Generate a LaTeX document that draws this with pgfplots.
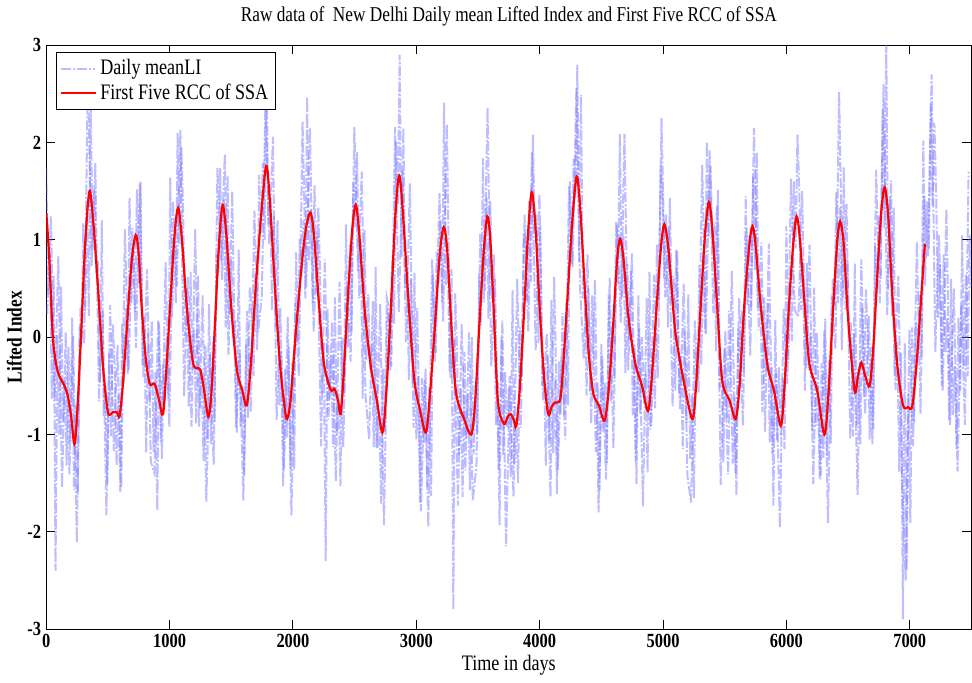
\documentclass[border=0pt]{standalone}
\usepackage{fontspec}
\setmainfont{Liberation Serif}[FakeStretch=0.82]
\usepackage{pgfplots}
\pgfplotsset{compat=1.18}
\usepackage{pgfplotstable}
\definecolor{rawblue}{RGB}{115,115,255}
\definecolor{rccred}{RGB}{255,0,0}

% daily mean LI, one value every 15 days from day 0
\pgfplotstableread[row sep=\\]{li\\
1.73\\ 0.44\\ 0.86\\ -0.63\\ 0.63\\ -2.40\\ 0.02\\ -1.00\\ 0.52\\ -0.87\\
-0.42\\ -1.32\\ -0.10\\ -1.07\\ 0.20\\ -1.57\\ -0.69\\ -1.62\\ 0.11\\ -0.10\\
1.17\\ 0.25\\ 1.34\\ 0.22\\ 2.45\\ 0.90\\ 1.52\\ 0.66\\ 0.79\\ -0.46\\
1.20\\ -0.81\\ -0.49\\ -1.51\\ -0.17\\ -1.02\\ 0.13\\ -0.32\\ -1.32\\ -0.59\\
-1.59\\ 0.14\\ -0.47\\ 0.30\\ -0.38\\ 1.43\\ 0.35\\ 0.98\\ 0.26\\ 1.52\\
0.55\\ 1.60\\ -0.29\\ 0.21\\ -1.19\\ 0.04\\ -0.68\\ 0.17\\ -1.18\\ -0.36\\
-1.78\\ 0.15\\ -1.07\\ -0.28\\ -0.66\\ 0.00\\ -0.63\\ 1.64\\ 0.20\\ 1.00\\
0.35\\ 2.10\\ 0.96\\ 1.95\\ 1.27\\ 0.01\\ 0.50\\ -0.72\\ 0.67\\ -0.35\\
0.07\\ -0.89\\ 0.64\\ -0.73\\ -0.32\\ -1.27\\ -0.08\\ -1.05\\ 0.34\\ -1.10\\
-0.05\\ -0.87\\ 0.85\\ 0.63\\ 1.74\\ 0.59\\ 1.41\\ 0.10\\ 1.66\\ 0.23\\
0.80\\ -0.01\\ 0.18\\ -0.98\\ 0.90\\ -0.93\\ -0.50\\ -1.41\\ -0.07\\ -0.83\\
0.52\\ 0.30\\ -0.40\\ 0.65\\ -0.13\\ 1.67\\ 1.07\\ 1.79\\ 1.00\\ 2.90\\
1.16\\ 1.44\\ 0.27\\ 1.25\\ 0.10\\ 1.20\\ -0.70\\ -0.14\\ -1.53\\ -0.33\\
-1.03\\ -0.10\\ -1.35\\ -0.26\\ -1.36\\ 0.87\\ -0.06\\ 1.01\\ 0.63\\ 1.20\\
0.40\\ 2.47\\ 0.78\\ 1.31\\ 0.33\\ 1.56\\ 0.45\\ 1.34\\ 0.64\\ -0.58\\
-0.06\\ -2.30\\ 0.29\\ -0.64\\ -0.19\\ -1.13\\ 0.41\\ -1.01\\ -0.58\\ -1.53\\
-0.01\\ -0.59\\ 1.16\\ -0.10\\ 0.95\\ 0.05\\ 1.59\\ 1.13\\ 1.90\\ 0.40\\
0.98\\ -0.63\\ 1.10\\ -0.24\\ 0.44\\ -0.33\\ -0.07\\ -1.13\\ 0.72\\ -1.14\\
-0.75\\ -1.71\\ -0.32\\ -0.98\\ 0.41\\ 0.31\\ -0.35\\ 0.79\\ 0.14\\ 2.02\\
1.36\\ 2.90\\ 0.82\\ 2.15\\ 0.50\\ 0.70\\ -0.44\\ 0.60\\ -0.51\\ 0.66\\
-1.05\\ -0.40\\ -1.70\\ -0.42\\ -1.09\\ -0.32\\ -1.54\\ -0.51\\ -1.63\\ 0.64\\
-0.25\\ 0.88\\ 0.56\\ 1.19\\ 0.36\\ 2.41\\ 0.53\\ 0.84\\ -0.35\\ 0.70\\
-2.80\\ 0.45\\ -0.15\\ -1.21\\ -0.53\\ -1.64\\ -0.15\\ -1.04\\ -0.58\\ -1.57\\
0.00\\ -1.20\\ -0.49\\ -0.99\\ 0.65\\ 0.12\\ 1.84\\ 0.48\\ 1.43\\ 0.19\\
1.40\\ 0.40\\ 0.85\\ -0.90\\ -0.46\\ -1.93\\ 0.00\\ -1.21\\ -0.36\\ -0.93\\
-0.51\\ -1.44\\ 0.48\\ -1.31\\ -0.85\\ -1.50\\ 0.10\\ -0.41\\ 1.07\\ 1.00\\
0.37\\ 1.40\\ 0.57\\ 2.08\\ 1.06\\ 1.26\\ -0.06\\ 1.15\\ -0.50\\ -0.30\\
-1.32\\ -0.19\\ -1.06\\ 0.38\\ -1.19\\ -0.42\\ -1.61\\ -0.25\\ -0.79\\ 0.25\\
-0.80\\ 0.35\\ -0.70\\ 1.60\\ 0.75\\ 1.83\\ 1.42\\ 2.80\\ 0.77\\ 2.49\\
0.40\\ 0.56\\ -0.60\\ 0.50\\ -0.56\\ 0.43\\ -0.14\\ -1.18\\ -0.47\\ -1.57\\
-0.07\\ -0.97\\ -0.47\\ -1.29\\ 0.44\\ -0.66\\ 0.10\\ -0.43\\ 1.19\\ 0.55\\
2.09\\ 0.41\\ 1.05\\ -0.37\\ 0.75\\ -0.04\\ 0.68\\ -0.80\\ -0.08\\ -1.51\\
0.43\\ -0.79\\ 0.00\\ -0.68\\ -0.36\\ -1.39\\ 0.67\\ -0.91\\ -0.13\\ -0.73\\
0.95\\ 0.36\\ 1.76\\ 1.48\\ 0.60\\ 1.26\\ 0.10\\ 1.43\\ 0.35\\ 0.63\\
-0.55\\ 0.89\\ -0.58\\ -0.19\\ -1.15\\ 0.06\\ -0.88\\ 0.44\\ -1.25\\ -0.59\\
-1.65\\ -0.15\\ -0.43\\ 0.74\\ -0.29\\ 0.88\\ 0.05\\ 2.01\\ 1.02\\ 1.76\\
1.00\\ 1.10\\ -0.15\\ 1.51\\ -0.52\\ -0.31\\ -1.28\\ 0.07\\ -0.83\\ 0.27\\
-0.24\\ -1.30\\ -0.61\\ -1.63\\ 0.09\\ -0.54\\ 0.28\\ -0.36\\ 1.45\\ 0.33\\
1.05\\ 0.31\\ 1.65\\ 0.69\\ 1.90\\ 0.07\\ 0.60\\ -0.77\\ 0.41\\ -0.35\\
0.35\\ -1.08\\ -0.30\\ -1.73\\ 0.18\\ -1.06\\ -0.31\\ -1.01\\ -0.41\\ -1.15\\
1.14\\ -0.26\\ 0.54\\ -0.04\\ 1.60\\ 0.91\\ 2.08\\ 1.49\\ 0.28\\ 0.76\\
-0.55\\ 0.76\\ -0.34\\ 0.04\\ -0.97\\ 0.51\\ -0.91\\ -0.49\\ -1.45\\ -0.27\\
-1.24\\ 0.19\\ -1.22\\ -0.24\\ -1.09\\ 0.60\\ 0.32\\ 1.49\\ 0.35\\ 1.33\\
-0.13\\ 1.75\\ 0.28\\ 0.81\\ -0.04\\ 0.15\\ -1.02\\ 0.76\\ -0.91\\ -0.32\\
-1.10\\ 0.31\\ -0.61\\ 0.49\\ -0.01\\ -1.05\\ -0.10\\ -0.95\\ 0.94\\ 0.44\\
1.25\\ 0.60\\ 2.34\\ 1.12\\ 3.00\\ 0.50\\ 1.44\\ 0.22\\ 1.33\\ -0.54\\
-0.05\\ -1.38\\ -0.16\\ -2.90\\ -0.06\\ -2.40\\ -0.57\\ -1.91\\ 0.10\\ -0.88\\
0.16\\ -0.20\\ 0.47\\ -0.20\\ 2.02\\ 0.53\\ 1.40\\ 0.90\\ 2.40\\ 1.35\\
2.20\\ 1.45\\ 0.20\\ 0.75\\ -0.50\\ 0.85\\ -0.15\\ 0.20\\ -0.85\\ 0.60\\
-0.80\\ -0.30\\ -1.15\\ 0.20\\ -0.55\\ 1.05\\ -0.30\\ 0.65\\ -0.40\\ 1.05\\
0.50\\
}\rawli

% the days in between, one value every 30 days from day 7.5
\pgfplotstableread[row sep=\\]{li\\
0.24\\ 1.24\\ -0.65\\ 0.83\\ -1.55\\ 0.05\\ -1.41\\ 0.01\\ -2.11\\ 0.30\\
-0.06\\ 2.71\\ 0.73\\ 1.79\\ -0.66\\ 0.27\\ -1.83\\ 0.33\\ -1.17\\ -0.08\\
-1.55\\ 1.11\\ -0.35\\ 1.12\\ -0.11\\ 1.58\\ -0.41\\ 0.70\\ -1.28\\ -1.40\\
0.18\\ -1.25\\ 0.77\\ -0.92\\ 1.40\\ 0.52\\ 2.13\\ -0.61\\ 0.62\\ -0.92\\
1.11\\ -0.92\\ 0.43\\ -1.69\\ -0.18\\ -1.31\\ 1.74\\ 0.79\\ 1.88\\ -0.18\\
1.50\\ -0.93\\ -0.14\\ -1.68\\ 0.27\\ -0.77\\ 1.30\\ 0.05\\ 0.43\\ 2.47\\
0.95\\ 2.06\\ -0.85\\ 0.30\\ -1.36\\ 0.21\\ -1.83\\ 0.35\\ -0.40\\ 2.22\\
0.51\\ 2.15\\ 0.05\\ 1.07\\ -1.12\\ 0.80\\ -0.85\\ 0.16\\ -1.48\\ 0.57\\
-1.13\\ 0.53\\ -0.25\\ 2.16\\ 0.68\\ 1.70\\ -0.59\\ -1.05\\ 0.37\\ -1.14\\
0.34\\ -1.93\\ 0.28\\ -0.30\\ 2.16\\ 0.26\\ 1.71\\ -0.05\\ 1.58\\ -0.93\\
0.30\\ -1.79\\ -0.43\\ -1.95\\ 0.80\\ -0.16\\ 1.48\\ 0.16\\ 2.19\\ -0.42\\
-0.02\\ -1.73\\ 0.14\\ -1.37\\ 0.05\\ -1.68\\ -1.32\\ 1.06\\ 0.36\\ 2.36\\
-0.30\\ 0.60\\ -1.37\\ 0.17\\ -2.15\\ -0.40\\ -1.64\\ 0.60\\ -0.93\\ 1.26\\
0.06\\ 1.90\\ -0.14\\ 1.47\\ -0.65\\ 0.04\\ -1.64\\ 0.62\\ -1.36\\ -0.20\\
-1.05\\ 1.55\\ 0.72\\ 2.56\\ 0.51\\ -0.22\\ 0.85\\ -0.89\\ 0.59\\ -1.80\\
-0.20\\ -1.46\\ 0.61\\ -1.14\\ 1.15\\ 0.15\\ 2.09\\ -0.34\\ 0.86\\ -1.27\\
0.09\\ -1.74\\ 0.40\\ -0.95\\ 0.64\\ -0.42\\ 2.25\\ 0.41\\ 1.14\\ -0.71\\
0.90\\ -0.74\\ 0.55\\ -1.42\\ -1.70\\ 0.17\\ -0.57\\ 1.77\\ 0.03\\ 1.92\\
0.25\\ 1.36\\ -1.52\\ -0.11\\ -1.41\\ 0.68\\ -1.40\\ 0.40\\ -0.91\\ 1.12\\
-0.19\\ 2.15\\ 0.29\\ 0.97\\ -0.97\\ 0.96\\ -1.19\\ -0.37\\ -1.96\\ 0.29\\
-0.48\\ 1.63\\ 0.28\\ 0.21\\ 1.50\\ -0.32\\ 0.95\\ -1.51\\ 0.05\\ -1.46\\
0.07\\ -1.91\\ 0.43\\ -0.12\\ 2.52\\ 0.41\\ 1.37\\ -1.05\\ 0.04\\ -1.62\\
0.80\\ -0.79\\ 0.22\\ -1.10\\ 1.72\\ 0.35\\ 2.60\\ 0.23\\ 1.61\\ -0.40\\
0.63\\ -1.43\\ -2.50\\ 0.08\\ -1.12\\ 0.98\\ -0.79\\ 1.45\\ 0.83\\ 2.70\\
-0.15\\ 1.05\\ -0.55\\ 1.32\\ -0.90\\ 0.50\\ -1.38\\ 0.35\\ -0.90\\ 1.70\\
}\rawlib

\begin{document}
\begin{tikzpicture}
\begin{axis}[
  scale only axis,
  width=461pt, height=291pt,
  xmin=0, xmax=7500, ymin=-3, ymax=3,
  xtick={0,1000,...,7000}, ytick={-3,-2,...,3},
  tick align=inside, major tick length=4.5pt,
  tick style={black, line width=0.5pt},
  axis line style={black, line width=0.6pt},
  /pgf/number format/assume math mode=true,
  /pgf/number format/1000 sep={},
  tick label style={font=\bfseries\fontsize{10}{12}\selectfont},
  xticklabel style={yshift=1pt},
  yticklabel style={xshift=1pt},
  title={Raw data of~ New Delhi Daily mean Lifted Index and First Five RCC of SSA},
  title style={font=\fontsize{10.5}{12}\selectfont},
  xlabel={Time in days},
  xlabel style={font=\fontsize{11}{13}\selectfont, yshift=3pt},
  ylabel={Lifted Index},
  ylabel style={font=\bfseries\fontsize{10.5}{12}\selectfont, yshift=-4pt},
  legend style={at={(0.011,0.988)}, anchor=north west, draw=black,
    fill=white, font=\fontsize{11}{13}\selectfont, inner sep=1.5pt,
    row sep=-1pt},
  legend cell align=left,
  rawstyle/.style={rawblue, opacity=0.47, line width=1pt,
    dash pattern=on 5pt off 1pt on 1pt off 1pt},
]
\addplot[rawstyle] table[x expr=\coordindex*15, y=li] {\rawli};
\addlegendentry{Daily meanLI}
\addplot[rawstyle, forget plot] table[x expr=7.5+\coordindex*30, y=li] {\rawlib};
\addplot[rccred, line width=1.1pt, smooth, tension=0.5] coordinates {
(0,1.28) (25,0.80) (52,0.02) (80,-0.28) (106,-0.40) (140,-0.48) (174,-0.60)
(205,-0.85) (228,-1.10) (250,-0.80) (282,0.02) (315,0.95) (350,1.50) (380,1.20)
(418,0.53) (460,-0.30) (500,-0.77) (540,-0.77) (570,-0.77) (594,-0.81)
(620,-0.50) (649,0.02) (690,0.75) (725,1.05) (750,0.85) (771,0.36) (805,-0.20)
(839,-0.48) (879,-0.48) (915,-0.65) (947,-0.79) (975,-0.30) (1010,0.45)
(1040,1.05) (1069,1.33) (1100,1.00) (1140,0.30) (1191,-0.27) (1246,-0.33)
(1280,-0.55) (1314,-0.82) (1340,-0.55) (1370,0.20) (1400,0.95) (1430,1.36)
(1460,1.05) (1500,0.30) (1545,-0.33) (1590,-0.55) (1626,-0.70) (1660,-0.25)
(1700,0.55) (1745,1.30) (1783,1.76) (1810,1.45) (1850,0.60) (1890,-0.20)
(1930,-0.70) (1952,-0.84) (1980,-0.65) (2020,0.00) (2075,0.80) (2110,1.15)
(2142,1.28) (2170,1.05) (2210,0.35) (2250,-0.26) (2305,-0.54) (2337,-0.53)
(2365,-0.65) (2386,-0.79) (2410,-0.40) (2445,0.40) (2480,1.10) (2508,1.36)
(2535,1.10) (2580,0.30) (2630,-0.29) (2680,-0.65) (2725,-0.98) (2755,-0.60)
(2790,0.20) (2830,1.25) (2861,1.66) (2890,1.30) (2935,0.40) (2983,-0.43)
(3030,-0.75) (3078,-0.98) (3110,-0.60) (3150,0.10) (3190,0.85) (3222,1.13)
(3250,0.90) (3285,0.10) (3322,-0.57) (3390,-0.85) (3445,-1.00) (3475,-0.70)
(3510,0.10) (3545,0.85) (3575,1.24) (3600,1.00) (3630,0.20) (3662,-0.67)
(3711,-0.89) (3740,-0.82) (3765,-0.79) (3790,-0.85) (3811,-0.91) (3840,-0.50)
(3875,0.30) (3905,1.05) (3935,1.49) (3965,1.15) (4000,0.30) (4035,-0.40)
(4069,-0.79) (4095,-0.72) (4123,-0.67) (4164,-0.65) (4185,-0.40) (4220,0.30)
(4265,1.20) (4300,1.65) (4330,1.30) (4370,0.40) (4400,-0.20) (4435,-0.58)
(4480,-0.70) (4525,-0.86) (4555,-0.60) (4590,0.00) (4625,0.75) (4652,1.01)
(4680,0.80) (4720,0.20) (4775,-0.27) (4830,-0.50) (4878,-0.76) (4910,-0.40)
(4950,0.35) (4985,0.95) (5011,1.16) (5040,0.95) (5070,0.50) (5100,0.05)
(5160,-0.40) (5236,-0.84) (5265,-0.55) (5300,0.20) (5340,1.05) (5372,1.39)
(5400,1.10) (5440,0.30) (5480,-0.45) (5540,-0.65) (5589,-0.84) (5620,-0.50)
(5660,0.35) (5700,0.95) (5725,1.14) (5750,0.95) (5790,0.35) (5847,-0.29)
(5900,-0.55) (5955,-0.91) (5985,-0.50) (6020,0.30) (6055,0.95) (6083,1.24)
(6110,1.00) (6150,0.30) (6186,-0.27) (6250,-0.55) (6308,-1.00) (6340,-0.60)
(6375,0.20) (6410,0.95) (6436,1.19) (6465,0.95) (6500,0.20) (6553,-0.55)
(6580,-0.40) (6607,-0.26) (6640,-0.40) (6675,-0.50) (6705,-0.10) (6740,0.70)
(6770,1.30) (6797,1.54) (6825,1.25) (6860,0.40) (6900,-0.30) (6946,-0.70)
(6985,-0.72) (7022,-0.70) (7060,-0.20) (7095,0.45) (7123,0.96)
};
\addlegendentry{First Five RCC of SSA}
\end{axis}
\end{tikzpicture}
\end{document}
